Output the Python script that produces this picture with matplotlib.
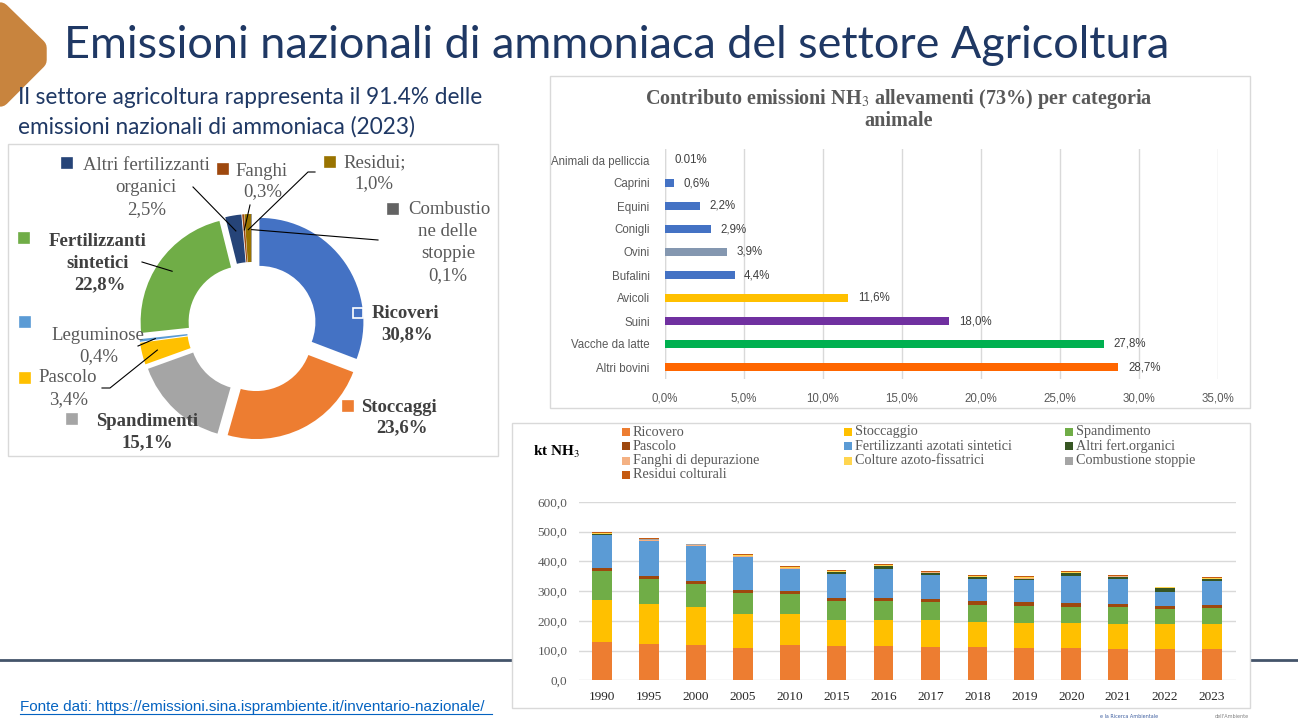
import numpy as np
import matplotlib
matplotlib.use('Agg')
import matplotlib.pyplot as plt
from matplotlib.patches import Rectangle, Polygon

plt.rcParams['mathtext.fontset'] = 'stix'

W, H = 1298, 726
SERIF = 'Liberation Serif'
SANS = 'Liberation Sans'

# torta: ripartizione emissioni agricole NH3 (2023)
pie_nomi = ['Ricoveri', 'Stoccaggi', 'Spandimenti', 'Pascolo', 'Leguminose',
            'Fertilizzanti sintetici', 'Altri fertilizzanti organici', 'Fanghi',
            'Residui', 'Combustione delle stoppie']
pie_val = [30.8, 23.6, 15.1, 3.4, 0.4, 22.8, 2.5, 0.3, 1.0, 0.1]
pie_col = ['#4472C4', '#ED7D31', '#A5A5A5', '#FFC000', '#5B9BD5',
           '#70AD47', '#264478', '#9E480E', '#997300', '#636363']

# contributo allevamenti per categoria animale
animali = ['Altri bovini', 'Vacche da latte', 'Suini', 'Avicoli', 'Bufalini',
           'Ovini', 'Conigli', 'Equini', 'Caprini', 'Animali da pelliccia']
quote = [28.7, 27.8, 18.0, 11.6, 4.4, 3.9, 2.9, 2.2, 0.6, 0.01]
quote_txt = ['28,7%', '27,8%', '18,0%', '11,6%', '4,4%', '3,9%', '2,9%', '2,2%', '0,6%', '0.01%']
col_animali = ['#FF6600', '#00B050', '#7030A0', '#FFC000', '#4472C4',
               '#8497B0', '#4472C4', '#4472C4', '#4472C4', '#D9D9D9']

# serie storica kt NH3
anni = ['1990', '1995', '2000', '2005', '2010', '2015', '2016', '2017',
        '2018', '2019', '2020', '2021', '2022', '2023']
ricovero = [130, 122, 119, 110, 119, 116, 116, 113, 112, 110, 110, 107, 105, 107]
stoccaggio = [140, 134, 126, 113, 103, 87, 87, 89, 85, 84, 84, 84, 83, 83]
spandimento = [98, 85, 79, 70, 68, 64, 64, 60, 58, 57, 54, 54, 52, 54]
pascolo = [9, 11, 10, 10, 9, 9, 11, 11, 11, 11, 12, 12, 11, 11]
fert_sint = [113, 117, 118, 111, 75, 81, 96, 81, 75, 74, 91, 83, 45, 78]
altri_org = [1, 1, 1, 1.5, 2, 6.5, 9, 7.5, 5, 6, 9, 8, 14.5, 8]
fanghi = [1.5, 1.5, 1.5, 3, 3, 1.5, 2, 1.5, 2, 2.5, 2, 1.5, 1, 1.5]
colture = [1.5, 1.5, 1.5, 1.5, 1.5, 1.5, 1.5, 1.5, 1.5, 1.5, 1.5, 1.5, 1, 1.5]
combustione = [2.5, 1.5, 1, 1, 0.5, 0.5, 0.5, 0.5, 0.5, 0.5, 0.5, 0.5, 0.5, 0.5]
residui = [4, 3.5, 3, 4, 2.5, 3, 3, 2.5, 4, 4.5, 4, 2.5, 2, 4]

serie = [ricovero, stoccaggio, spandimento, pascolo, fert_sint, altri_org,
         fanghi, colture, combustione, residui]
serie_nomi = ['Ricovero', 'Stoccaggio', 'Spandimento', 'Pascolo',
              'Fertilizzanti azotati sintetici', 'Altri fert.organici',
              'Fanghi di depurazione', 'Colture azoto-fissatrici',
              'Combustione stoppie', 'Residui colturali']
serie_col = ['#ED7D31', '#FFC000', '#70AD47', '#9E480E', '#5B9BD5', '#375623',
             '#F4B183', '#FFD54F', '#A5A5A5', '#C55A11']

fig = plt.figure(figsize=(W / 100, H / 100), dpi=100)
bg = fig.add_axes([0, 0, 1, 1])
bg.set_xlim(0, W)
bg.set_ylim(H, 0)
bg.axis('off')


def box(x0, y0, x1, y1):
    return fig.add_axes([x0 / W, 1 - y1 / H, (x1 - x0) / W, (y1 - y0) / H])


# sfondo slide
bg.add_patch(Polygon([(0, 12), (37, 48), (37, 60), (0, 97)], closed=True,
                     facecolor='#C8843E', edgecolor='#C8843E', lw=14, joinstyle='round'))
bg.plot([0, W], [660, 660], color='#44546A', lw=2, zorder=1)
for (x0, y0, x1, y1) in [(8, 144, 498, 456), (550, 76, 1250, 408), (512, 423, 1250, 708)]:
    bg.add_patch(Rectangle((x0, y0), x1 - x0, y1 - y0, facecolor='white',
                           edgecolor='#D9D9D9', lw=1, zorder=2))

bg.text(64, 46, 'Emissioni nazionali di ammoniaca del settore Agricoltura',
        fontsize=32.4, family='Lato', color='#1F3864', va='center')
bg.text(18, 97, 'Il settore agricoltura rappresenta il 91.4% delle',
        fontsize=16.3, family='Lato', color='#1F3864', va='center')
bg.text(18, 127, 'emissioni nazionali di ammoniaca (2023)',
        fontsize=16.3, family='Lato', color='#1F3864', va='center')
bg.text(20, 707, 'Fonte dati: https://emissioni.sina.isprambiente.it/inventario-nazionale/',
        fontsize=11, family=SANS, color='#0563C1', va='center')
bg.plot([20, 492], [714, 714], color='#0563C1', lw=0.8)
bg.text(1100, 716, 'e la Ricerca Ambientale', fontsize=3.5, color='#4060A0', va='center')
bg.text(1215, 716, "dell'Ambiente", fontsize=3.5, color='#7F7F7F', va='center')

# ---- ciambella ----
axp = box(8, 144, 498, 456)
cx, cy, R = 252, 327, 104
wedges, _ = axp.pie(pie_val, colors=pie_col, startangle=-90, counterclock=True,
                    radius=R, center=(cx, cy), explode=[9] * len(pie_val),
                    wedgeprops=dict(width=48, edgecolor='none'))
axp.set_xlim(8, 498)
axp.set_ylim(456, 144)
axp.set_aspect('auto')
axp.axis('off')


def anchor(w, f=0.85):
    t = np.deg2rad((w.theta1 + w.theta2) / 2)
    return w.center[0] + f * R * np.cos(t), w.center[1] + f * R * np.sin(t)


gray = '#595959'
lab = dict(family=SERIF, fontsize=13.5, color=gray, ha='center', va='center')
labb = dict(lab, fontweight='bold', color='#404040')

# testi etichette: (indice, marker, righe, stile)
etichette = [
    (0, (358, 313), [(405, 313, 'Ricoveri'), (407, 335, '30,8%')], labb),
    (1, (348, 406), [(399, 407, 'Stoccaggi'), (402, 428, '23,6%')], labb),
    (2, (72, 419), [(147, 422, 'Spandimenti'), (147, 443, '15,1%')], labb),
    (3, (25, 378), [(68, 378, 'Pascolo'), (69, 400, '3,4%')], lab),
    (4, (25, 322), [(98, 335, 'Leguminose'), (99, 357, '0,4%')], lab),
    (5, (24, 238), [(98, 241, 'Fertilizzanti'), (98, 263, 'sintetici'), (100, 285, '22,8%')], labb),
    (6, (67, 163), [(146, 166, 'Altri fertilizzanti'), (146, 188, 'organici'), (147, 210, '2,5%')], lab),
    (7, (223, 169), [(262, 171, 'Fanghi'), (263, 192, '0,3%')], lab),
    (8, (330, 162), [(375, 163, 'Residui;'), (374, 184, '1,0%')], lab),
    (9, (393, 209), [(449, 210, 'Combustio'), (448, 232, 'ne delle'), (448, 254, 'stoppie'), (448, 276, '0,1%')], lab),
]
for i, (mx, my), righe, st in etichette:
    axp.plot(mx, my, 's', ms=6.5, color=pie_col[i],
             mec='white' if i == 0 else pie_col[i], mew=1.2, zorder=5)
    for tx, ty, s in righe:
        axp.text(tx, ty, s, **st)

# linee di richiamo: partenza vicino al testo, arrivo sulla fetta
richiami = {6: [(193, 187)], 7: [(250, 205)], 8: [(315, 172), (308, 172)],
            9: [(378, 240)], 5: [(142, 262)], 4: [(138, 346)], 3: [(102, 388), (110, 388)]}
for i, pts in richiami.items():
    ax_, ay_ = anchor(wedges[i])
    xs = [p[0] for p in pts] + [ax_]
    ys = [p[1] for p in pts] + [ay_]
    axp.plot(xs, ys, color='black', lw=0.8, zorder=4)

# ---- barre orizzontali allevamenti ----
bg.text(899, 99, 'Contributo emissioni NH$_3$ allevamenti (73%) per categoria',
        family=SERIF, fontweight='bold', fontsize=14.5, color=gray, ha='center', va='center')
bg.text(899, 121, 'animale', family=SERIF, fontweight='bold', fontsize=14.5,
        color=gray, ha='center', va='center')
axb = box(665, 148.5, 1218, 378.5)
yy = np.arange(len(animali))
axb.barh(yy, quote, height=0.38, color=col_animali, zorder=3)
axb.set_xlim(0, 35)
axb.set_ylim(-0.5, len(animali) - 0.5)
axb.set_xticks(np.arange(0, 36, 5))
axb.set_xticklabels([('%.1f%%' % v).replace('.', ',') for v in np.arange(0, 36, 5)])
axb.set_yticks(yy)
axb.set_yticklabels(animali)
axb.grid(axis='x', color='#D9D9D9', lw=1, zorder=0)
axb.axvline(0, color='#D9D9D9', lw=1, zorder=1)
for s in axb.spines.values():
    s.set_visible(False)
axb.tick_params(length=0, labelsize=8.3, labelcolor=gray, pad=10)
axb.tick_params(axis='y', pad=11)
for lbl in axb.get_xticklabels() + axb.get_yticklabels():
    lbl.set_family(SANS)
for i, (v, t) in enumerate(zip(quote, quote_txt)):
    axb.text(v + 0.6, i, t, va='center', fontsize=8.3, family=SANS, color='#404040')

# ---- serie storica impilata ----
axs = box(578.5, 502, 1235.5, 680.3)
x = np.arange(len(anni))
base = np.zeros(len(anni))
for vals, nome, c in zip(serie, serie_nomi, serie_col):
    axs.bar(x, vals, bottom=base, width=0.42, color=c, label=nome, zorder=3)
    base += np.array(vals)
axs.set_xlim(-0.5, len(anni) - 0.5)
axs.set_ylim(0, 600)
axs.set_yticks(np.arange(0, 601, 100))
axs.set_yticklabels([('%.1f' % v).replace('.', ',') for v in np.arange(0, 601, 100)])
axs.set_xticks(x)
axs.set_xticklabels(anni)
axs.grid(axis='y', color='#D9D9D9', lw=1, zorder=0)
for s in axs.spines.values():
    s.set_visible(False)
axs.tick_params(length=0, labelsize=9.5, labelcolor=gray)
axs.tick_params(axis='x', pad=8, labelcolor='#262626')
axs.tick_params(axis='y', pad=8)
for lbl in axs.get_xticklabels() + axs.get_yticklabels():
    lbl.set_family(SERIF)

bg.text(533, 452, 'kt NH$_3$', family=SERIF, fontweight='bold', fontsize=11,
        color='black', va='center', zorder=5)
col_x = [626, 848, 1069]
for k, (nome, c) in enumerate(zip(serie_nomi, serie_col)):
    r, q = divmod(k, 3)
    px, py = col_x[q], 432 + r * 14.3
    bg.add_patch(Rectangle((px - 4, py - 4), 8, 8, facecolor=c, edgecolor='none', zorder=5))
    bg.text(px + 7, py, nome, family=SERIF, fontsize=10.2, color=gray, va='center', zorder=5)

fig.savefig('out.png', dpi=100)
